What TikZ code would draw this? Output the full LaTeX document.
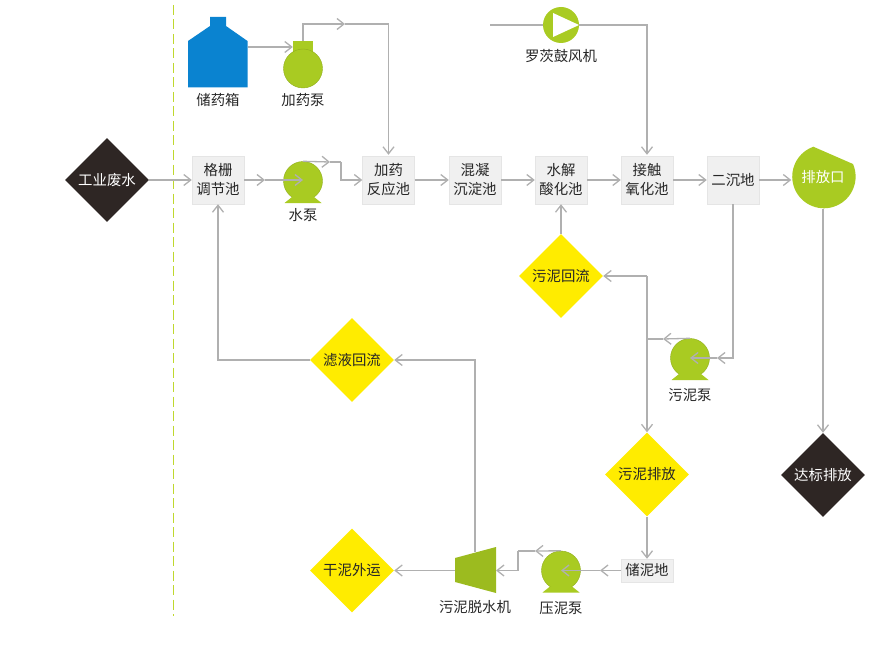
\documentclass[tikz,border=0pt]{standalone}
\usepackage{fontspec}
\setmainfont{Noto Sans CJK SC}
\usetikzlibrary{arrows.meta,shapes.geometric}
\definecolor{flowgray}{HTML}{B0B0B0}
\definecolor{pumpgreen}{HTML}{A9CB22}
\definecolor{dashgreen}{HTML}{BFD82E}
\definecolor{tankblue}{HTML}{0A83D0}
\definecolor{signyellow}{HTML}{FFEC00}
\definecolor{signdark}{HTML}{2E2624}
\tikzset{
  flow/.style={draw=flowgray,line width=1.3pt,-{Straight Barb[length=7pt,width=11pt,line width=1.3pt]}},
  pipe/.style={draw=flowgray,line width=1.3pt},
  tankbox/.style={rectangle,fill=black!6,draw=black!10,minimum width=52pt,minimum height=48pt,inner sep=0pt,align=center},
  yellowsign/.style={diamond,aspect=1,fill=signyellow,inner sep=0pt,minimum width=84pt,minimum height=84pt},
  darksign/.style={diamond,aspect=1,fill=signdark,text=white,inner sep=0pt,minimum width=84pt,minimum height=84pt},
  pumpball/.style={circle,fill=pumpgreen,draw=pumpgreen!85!black,line width=.4pt,inner sep=0pt,minimum size=39pt},
  caption/.style={inner sep=0pt}
}
\begin{document}
\begin{tikzpicture}[x=1pt,y=1pt,font=\fontsize{14.4}{19}\selectfont,text=black!85]
\useasboundingbox (0,0) rectangle (894,-658);
% division line
\draw[dashgreen,line width=1.6pt,dash pattern=on 10pt off 4.5pt] (173.5,-5) -- (173.5,-616);
% tank and dosing pump
\fill[tankblue] (188,-87.5) -- (188,-41) -- (210,-26) -- (210,-17) -- (226,-17) -- (226,-26) -- (247.5,-41) -- (247.5,-87.5) -- cycle;
\coordinate (tankout) at (247.5,-47);
\node[caption] (tanklabel) at (218,-100) {储药箱};
\node[rectangle,fill=pumpgreen,minimum width=20pt,minimum height=12pt,inner sep=0pt] (dosetop) at (303,-47) {};
\node[pumpball] (pumpdose) at (303,-68.5) {};
\node[caption] (doselabel) at (303,-100) {加药泵};
% blower
\node[circle,fill=pumpgreen,inner sep=0pt,minimum size=36pt] (blower) at (561,-25) {};
\fill[white] (553,-13) -- (579,-25) -- (553,-37) -- cycle;
\node[caption] (blowerlabel) at (561,-56.5) {罗茨鼓风机};
\coordinate (airin) at (490,-25);
% main line
\node[darksign] (inflow) at (107,-180) {工业废水};
\node[tankbox] (screen) at (218,-180) {格栅\\调节池};
\node[pumpball] (pumpwater) at (303,-181) {};
\node[caption] (waterlabel) at (303,-215) {水泵};
\node[tankbox] (dosing) at (388.5,-180) {加药\\反应池};
\node[tankbox] (settle) at (475,-180) {混凝\\沉淀池};
\node[tankbox] (hydro) at (561,-180) {水解\\酸化池};
\node[tankbox] (contact) at (647,-180) {接触\\氧化池};
\node[tankbox] (second) at (733,-180) {二沉地};
\fill[pumpgreen] (853,-164) arc[start angle=23.4,end angle=-250.5,radius=31.7] -- cycle;
\node[circle,inner sep=0pt,minimum size=63pt,text=white] (outlet) at (823,-177) {排放口};
\node[darksign] (release) at (823,-475) {达标排放};
% sludge line
\node[yellowsign] (sludgeback) at (561,-276) {污泥回流};
\node[pumpball] (pumpsludge) at (690,-358) {};
\node[caption] (sludgelabel) at (690,-395) {污泥泵};
\node[yellowsign] (sludgeout) at (647,-474.5) {污泥排放};
\node[tankbox,minimum height=23pt] (store) at (647,-570.5) {储泥地};
\node[pumpball] (pumppress) at (561,-570.5) {};
\node[caption] (presslabel) at (561,-608) {压泥泵};
\fill[pumpgreen!92!black] (455,-558) -- (496,-547) -- (496,-593) -- (455,-582) -- cycle;
\coordinate (pressin) at (496,-570.5);
\coordinate (pressout) at (455,-570.5);
\coordinate (presstop) at (475,-552);
\node[caption] (dewaterlabel) at (475,-607) {污泥脱水机};
\node[yellowsign] (filtrate) at (352,-360) {滤液回流};
\node[yellowsign] (drycake) at (352,-570.5) {干泥外运};
% pump feet
\foreach \p in {pumpwater,pumpsludge,pumppress}
\fill[pumpgreen] ([shift={(-11,-16)}]\p.center) -- ([shift={(11,-16)}]\p.center) -- ([shift={(18.5,-22)}]\p.center) -- ([shift={(-18.5,-22)}]\p.center) -- cycle;
% flow arrows
\coordinate (tipdose) at (345,-24);
\coordinate (tipscreen) at (265,-180);
\coordinate (tipwater) at (330,-162);
\coordinate (bendwater) at (341,-162);
\coordinate (tipsludge) at (717,-358);
\coordinate (tipout) at (663,-339);
\coordinate (joint) at (647,-339);
\coordinate (tipstore) at (600,-570.5);
\coordinate (tippress) at (535,-551);
\coordinate (bendpress) at (518,-551);
\draw[flow] (inflow.east) -- (screen.west);
\draw[flow] (tankout) -- (dosetop.west);
\draw[flow] (dosetop.north) |- (tipdose);
\draw[flow] (tipdose) -| ([yshift=1pt]dosing.north);
\draw[flow] (screen.east) -- (tipscreen);
\draw[flow] (tipscreen) -- (pumpwater.center |- screen.east);
\draw[flow] (pumpwater.north) -- (tipwater);
\draw[pipe] (tipwater) -- (bendwater);
\draw[flow] (bendwater) |- (dosing.west);
\draw[flow] (dosing.east) -- (settle.west);
\draw[flow] (settle.east) -- (hydro.west);
\draw[flow] (hydro.east) -- (contact.west);
\draw[flow] (contact.east) -- (second.west);
\draw[flow] (second.east) -- (outlet.west |- second.east);
\draw[pipe] (airin) -- (blower.west);
\draw[flow] (blower.east) -| ([yshift=1pt]contact.north);
\draw[flow] (outlet.south) -- (release.north);
\draw[flow] (second.south) |- (tipsludge);
\draw[flow] (tipsludge) -- (pumpsludge.center);
\draw[flow] (pumpsludge.north) -- (tipout);
\draw[pipe] (tipout) -- (joint);
\draw[flow] (sludgeout.north |- sludgeback.east) -- (sludgeback.east);
\draw[flow] (sludgeout.north |- sludgeback.east) -- (sludgeout.north);
\draw[flow] (sludgeback.north) -- (hydro.south);
\draw[flow] (sludgeout.south) -- (store.north);
\draw[flow] (store.west) -- (tipstore);
\draw[flow] (tipstore) -- (pumppress.center);
\draw[flow] (pumppress.north) -- (tippress);
\draw[pipe] (tippress) -- (bendpress);
\draw[flow] (bendpress) |- (pressin);
\draw[flow] (pressout) -- (drycake.east);
\draw[flow] (presstop) |- (filtrate.east);
\draw[flow] (filtrate.west) -| (screen.south);
\end{tikzpicture}
\end{document}
